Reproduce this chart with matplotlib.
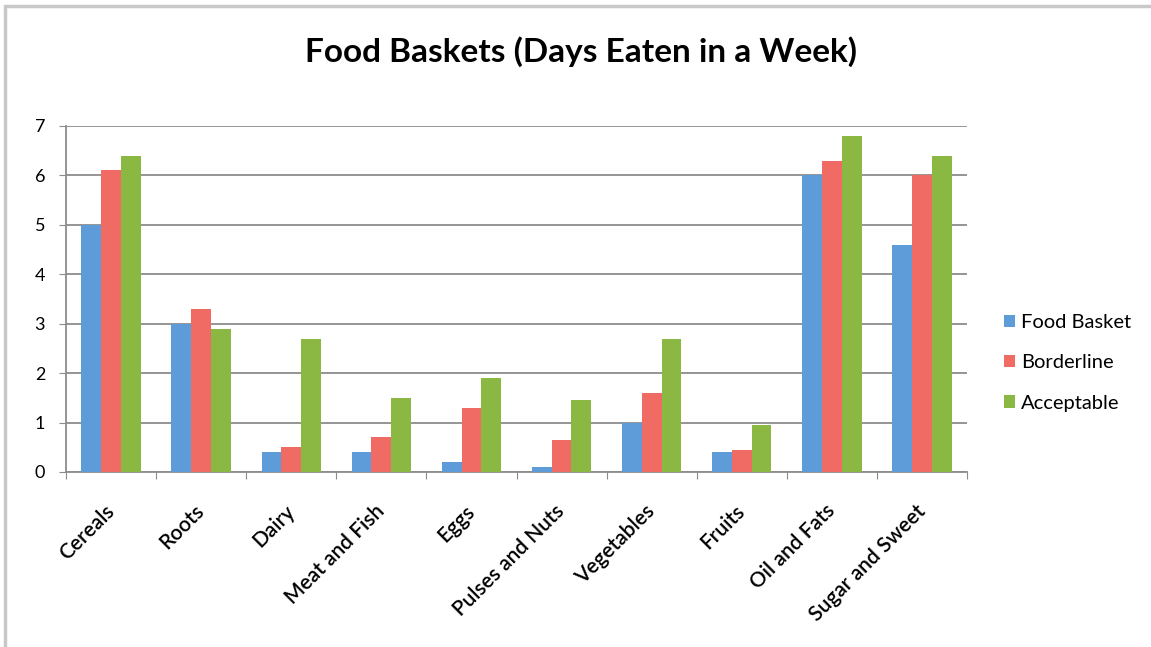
import numpy as np
import matplotlib.pyplot as plt
from matplotlib.patches import Rectangle

categories = ['Cereals', 'Roots', 'Dairy', 'Meat and Fish', 'Eggs',
              'Pulses and Nuts', 'Vegetables', 'Fruits', 'Oil and Fats', 'Sugar and Sweet']
food_basket = [5.0, 3.0, 0.4, 0.4, 0.2, 0.1, 1.0, 0.4, 6.0, 4.6]
borderline = [6.1, 3.3, 0.5, 0.7, 1.3, 0.65, 1.6, 0.45, 6.3, 6.0]
acceptable = [6.4, 2.9, 2.7, 1.5, 1.9, 1.45, 2.7, 0.95, 6.8, 6.4]

series = [('Food Basket', food_basket, '#5e9bd9'),
          ('Borderline', borderline, '#ef6b63'),
          ('Acceptable', acceptable, '#8bb843')]

plt.rcParams['font.family'] = ['Lato', 'DejaVu Sans']

fig = plt.figure(figsize=(11.51, 6.47), dpi=100)
ax = fig.add_axes([66 / 1151, 1 - 472 / 647, (967 - 66) / 1151, (472 - 126) / 647])

# outer chart frame (top/left visible)
fig.patches.append(Rectangle((5 / 1151, -0.01), 1.2, 1 - 6 / 647 + 0.01,
                             transform=fig.transFigure, fill=False,
                             edgecolor='#c8c8c8', linewidth=2.5))

x = np.arange(len(categories))
w = 0.22
for i, (name, vals, col) in enumerate(series):
    ax.bar(x + (i - 1) * w, vals, width=w, color=col, label=name, zorder=3)

ax.set_xlim(-0.5, len(categories) - 0.5)
ax.set_ylim(0, 7)
ax.set_yticks(range(8))
ax.yaxis.grid(True, color='#8c8c8c', linewidth=1.3, zorder=0)
ax.set_axisbelow(True)

ax.set_xticks(np.arange(-0.5, len(categories), 1.0))
ax.set_xticklabels([])
# labels sit a touch right of the group centre, like the original
ax.set_xticks(x + 0.08, minor=True)
ax.set_xticklabels(categories, minor=True, rotation=45, ha='right', va='bottom',
                   rotation_mode='anchor', fontsize=15, fontweight='semibold')
ax.tick_params(axis='x', which='minor', length=0, pad=31)
ax.tick_params(axis='x', which='major', length=5, color='#8c8c8c', direction='out')
ax.tick_params(axis='y', length=5, color='#8c8c8c', labelsize=13, pad=10)

for s in ['top', 'right']:
    ax.spines[s].set_visible(False)
for s in ['left', 'bottom']:
    ax.spines[s].set_color('#8c8c8c')
    ax.spines[s].set_linewidth(1.3)

fig.text(581 / 1151, 1 - 52 / 647, 'Food Baskets (Days Eaten in a Week)',
         ha='center', va='center', fontsize=24, fontweight='bold')

fig.legend(*ax.get_legend_handles_labels(), loc='center left',
           bbox_to_anchor=(986 / 1151, 1 - 363 / 647), frameon=False,
           fontsize=14.5, handlelength=0.55, handleheight=0.55, handletextpad=0.3,
           labelspacing=1.15)

fig.savefig('out.png', dpi=100)
